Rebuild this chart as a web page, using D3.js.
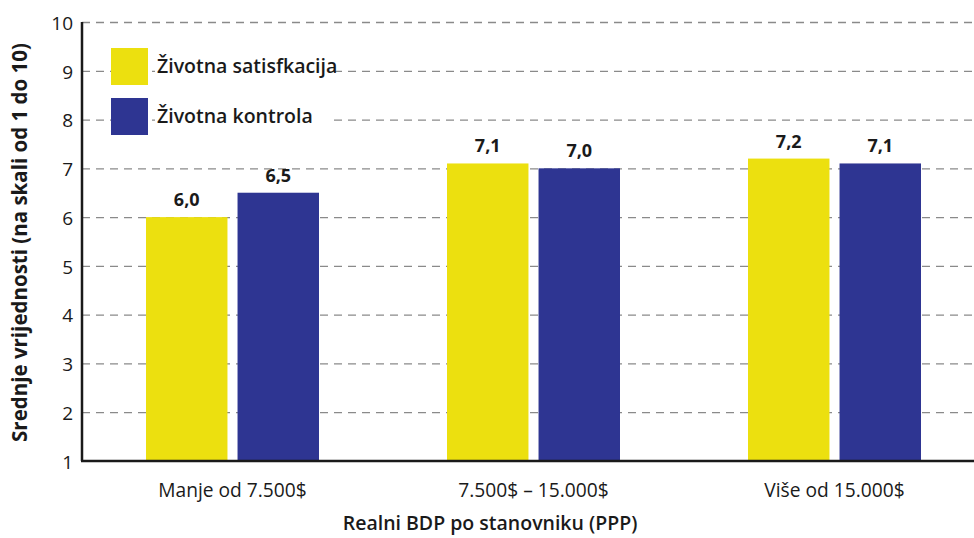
<!DOCTYPE html>
<html>
<head>
<meta charset="utf-8">
<script src="https://cdn.jsdelivr.net/npm/d3@7"></script>
<style>
  body { margin: 0; background: #fff; }
  svg { display: block; }
  text { font-family: "Open Sans", "DejaVu Sans", sans-serif; fill: #1a1a1a; }
</style>
</head>
<body>
<div id="chart"></div>
<script>
// data
const categories = ['Manje od 7.500$', '7.500$ – 15.000$', 'Više od 15.000$'];
const seriesNames = ['Životna satisfkacija', 'Životna kontrola'];
const satisfakcija = [6.0, 7.1, 7.2];
const kontrola = [6.5, 7.0, 7.1];
const yTicks = [1, 2, 3, 4, 5, 6, 7, 8, 9, 10];
const colors = ['#ece00f', '#2e3592'];

const width = 974, height = 538;
const plotLeft = 82, plotRight = 985, plotTop = 22, plotBottom = 461;

const svg = d3.select('#chart').append('svg')
  .attr('width', width)
  .attr('height', height);

const x = d3.scaleBand().domain(categories).range([plotLeft, plotRight]).padding(0);
const xInner = d3.scaleBand().domain(seriesNames)
  .range([64, 237]).paddingInner(0.11);
const y = d3.scaleLinear().domain([1, 10]).range([plotBottom, plotTop]);

// grid
const grid = svg.append('g')
  .attr('transform', `translate(${plotLeft},0)`)
  .call(d3.axisRight(y).tickValues(yTicks.slice(1)).tickSize(width - plotLeft).tickFormat(''));
grid.select('.domain').remove();
grid.selectAll('line')
  .attr('stroke', '#8a8a8a')
  .attr('stroke-width', 1.3)
  .attr('stroke-dasharray', '8,6');

// y tick labels
const yAxis = svg.append('g')
  .attr('transform', `translate(${plotLeft},0)`)
  .call(d3.axisLeft(y).tickValues(yTicks).tickSize(0).tickPadding(9).tickFormat(d3.format('d')));
yAxis.select('.domain').remove();
yAxis.selectAll('text')
  .style('font-size', '19px')
  .style('font-family', '"Open Sans", sans-serif')
  .attr('fill', '#1a1a1a')
  .attr('dy', '0.38em');

// bars
const rows = categories.map((c, i) => ({ cat: c, values: [satisfakcija[i], kontrola[i]] }));
const groups = svg.append('g').selectAll('g').data(rows).join('g')
  .attr('transform', d => `translate(${x(d.cat)},0)`);

groups.selectAll('rect')
  .data(d => d.values.map((v, j) => ({ name: seriesNames[j], v, j })))
  .join('rect')
  .attr('x', d => xInner(d.name))
  .attr('width', xInner.bandwidth())
  .attr('y', d => y(d.v))
  .attr('height', d => y(1) - y(d.v))
  .attr('fill', d => colors[d.j]);

groups.selectAll('text.val')
  .data(d => d.values.map((v, j) => ({ name: seriesNames[j], v, j })))
  .join('text')
  .attr('class', 'val')
  .attr('x', d => xInner(d.name) + xInner.bandwidth() / 2)
  .attr('y', d => y(d.v) - 11)
  .attr('text-anchor', 'middle')
  .style('font-size', '18px')
  .style('font-weight', '700')
  .text(d => d3.format('.1f')(d.v).replace('.', ','));

// axes lines
svg.append('line')
  .attr('x1', plotLeft).attr('x2', plotLeft)
  .attr('y1', y(10)).attr('y2', y(1))
  .attr('stroke', '#1a1a1a').attr('stroke-width', 2.5);
svg.append('line')
  .attr('x1', plotLeft - 1).attr('x2', width)
  .attr('y1', y(1)).attr('y2', y(1))
  .attr('stroke', '#1a1a1a').attr('stroke-width', 2.5);

// x category labels
const xAxis = svg.append('g')
  .attr('transform', `translate(0,${plotBottom})`)
  .call(d3.axisBottom(x).tickSize(0).tickPadding(22));
xAxis.select('.domain').remove();
xAxis.selectAll('text')
  .style('font-size', '20px')
  .style('font-family', '"Open Sans", sans-serif')
  .attr('fill', '#1a1a1a')
  .attr('transform', 'scale(0.96,1)');

// titles
svg.append('text')
  .attr('x', 490).attr('y', 530)
  .attr('text-anchor', 'middle')
  .style('font-size', '19.5px')
  .style('font-weight', '600')
  .text('Realni BDP po stanovniku (PPP)');

svg.append('text')
  .attr('transform', `translate(27,${(plotTop + plotBottom) / 2 + 1}) rotate(-90)`)
  .attr('text-anchor', 'middle')
  .style('font-size', '20.5px')
  .style('font-weight', '700')
  .text('Srednje vrijednosti (na skali od 1 do 10)');

// legend
const legend = svg.append('g').attr('transform', 'translate(111,48)');
seriesNames.forEach((name, i) => {
  legend.append('rect')
    .attr('x', 0).attr('y', i * 50)
    .attr('width', 37).attr('height', 37)
    .attr('fill', colors[i]);
  legend.append('rect')
    .attr('x', 44).attr('y', i * 50 + 5)
    .attr('width', 178).attr('height', 27)
    .attr('fill', '#fff');
  legend.append('text')
    .attr('x', 46).attr('y', i * 50 + 25)
    .style('font-size', '19.5px')
    .style('font-weight', '600')
    .text(name);
});
</script>
</body>
</html>
